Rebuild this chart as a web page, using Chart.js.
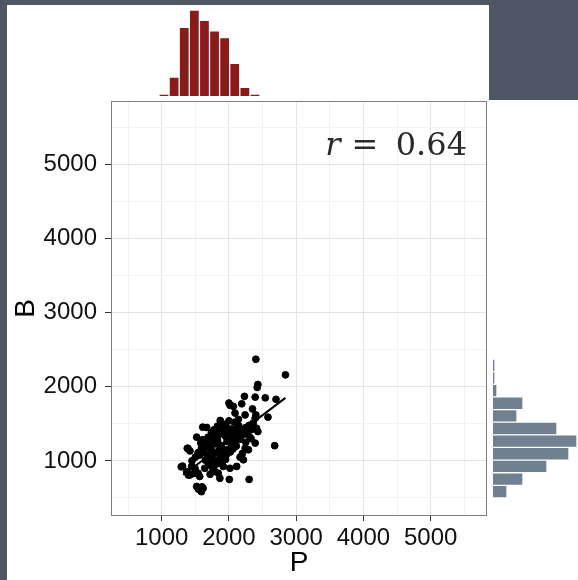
<!DOCTYPE html>
<html>
<head>
<meta charset="utf-8">
<script src="https://cdn.jsdelivr.net/npm/chart.js@4.4.1/dist/chart.umd.min.js"></script>
<style>
  html, body { margin: 0; padding: 0; }
  body { width: 578px; height: 580px; background: #4f5666; position: relative; overflow: hidden; }
  .panel { position: absolute; background: #fff; }
  canvas { position: absolute; }
</style>
</head>
<body>
<div class="panel" style="left:7px;top:5px;width:482px;height:96px"></div>
<div class="panel" style="left:7px;top:100px;width:571px;height:480px"></div>
<canvas id="main" style="left:0;top:0" width="578" height="580"></canvas>
<canvas id="topHist" style="left:159px;top:5px" width="101" height="91"></canvas>
<canvas id="sideHist" style="left:493px;top:359px" width="85" height="139"></canvas>
<script>
// scatter: P (x) vs B (y)
const pVals = [
  2400, 2840, 2430, 2420, 2230, 2390, 2540, 2700, 2000, 2015, 2065, 2190, 2350, 2090, 2240, 2580, 2390, 2400,
  1870, 1890, 1610, 1670, 2025, 2145, 2410, 2430, 1520, 1765, 1840, 1990, 2310, 1610, 1380, 1420, 1590, 1640,
  2240, 2290, 2390, 2680, 1550, 2165, 2215,
  1310, 1445, 1495, 1765, 1915, 2015, 2115, 1370, 1420, 1540, 1565, 1840, 1865, 2005, 2300, 1520, 1565, 1590,
  1615, 1545, 1600,
  1700, 1720, 1740, 1760, 1780, 1800, 1830, 1850, 1860, 1870, 1880, 1900, 1920, 1930,
  1950, 1960, 1970, 1980, 2010, 2020, 2030, 2050, 2060, 2070, 2080, 2100, 2110, 2120,
  2150, 2160, 2180, 2200, 2220, 2250, 2270, 2300, 2330, 2360, 1750, 1790, 1820, 1680, 1650, 1700, 1760,
  1820, 1900, 1950, 1620, 1660, 1690, 1740, 1780, 1830, 1880, 1950, 2000, 2080, 2140, 1580, 1640, 1720, 1790,
  1290, 1390, 1570, 1395, 1480, 1540, 2250, 2330, 2200, 1500, 1450
];
const bVals = [
  2370, 2160, 2030, 1990, 1870, 1860, 1850, 1830, 1780, 1750, 1735, 1770, 1700, 1645, 1620, 1590, 1575, 1620,
  1545, 1510, 1455, 1450, 1430, 1475, 1440, 1395, 1320, 1330, 1375, 1330, 1320, 1285, 1170, 1135, 1170, 1170,
  1170, 1150, 1240, 1205, 1080, 1050, 1015,
  930, 925, 900, 930, 925, 900, 925, 855, 810, 835, 790, 835, 765, 750, 750, 655, 610, 585,
  630, 620, 650,
  1200, 1260, 1150, 1310, 1100, 1230, 1280, 1140, 1360, 1050, 1210, 1170, 1120, 1400,
  1330, 1080, 1260, 1150, 1370, 1120, 1240, 1310, 1160, 1420, 1230, 1350, 1200, 1300,
  1380, 1290, 1330, 1420, 1360, 1450, 1390, 1480, 1420, 1510, 1020, 990, 960, 1080, 1010, 950, 880,
  1000, 980, 1020, 1120, 1230, 1320, 1380, 1420, 1470, 1430, 1480, 1540, 1520, 1560, 1240, 900, 820, 860,
  920, 1170, 1080, 810, 830, 1110, 1250, 1300, 1100, 1050, 1000
];
// fitted line end points
const fitP = [1320, 2840];
const fitB = [810, 1850];
const gridVals = [500, 1000, 1500, 2000, 2500, 3000, 3500, 4000, 4500, 5000, 5500];

// marginal histograms
const pBins = ['1000', '1150', '1300', '1450', '1600', '1750', '1900', '2050', '2200', '2350'];
const pCounts = [1, 11, 40, 50, 44, 38, 34, 19, 5, 1];
const bBins = ['2300', '2130', '1960', '1790', '1620', '1450', '1280', '1110', '940', '770', '600'];
const bCounts = [1, 1, 2, 15, 12, 32, 42, 38, 27, 15, 7];

const sans = '"Liberation Sans", Arial, sans-serif';

const panelBox = {
  id: 'panelBox',
  afterDraw(chart) {
    const c = chart.ctx, a = chart.chartArea;
    c.save();
    c.strokeStyle = '#7f7f7f';
    c.lineWidth = 1;
    c.strokeRect(a.left + 0.5, a.top + 0.5, a.right - a.left - 1, a.bottom - a.top - 1);
    // r label
    c.fillStyle = '#2a2a2a';
    c.textBaseline = 'alphabetic';
    c.font = '32px "DejaVu Serif", serif';
    c.textAlign = 'right';
    c.fillText('0.64', a.right - 20, a.top + 54);
    c.textAlign = 'center';
    c.fillText('=', a.right - 122, a.top + 54);
    c.font = 'italic 32px "DejaVu Serif", serif';
    c.fillText('r', a.right - 154, a.top + 54);
    c.restore();
  }
};

const isMajor = v => v % 1000 === 0;

new Chart(document.getElementById('main'), {
  type: 'scatter',
  data: {
    datasets: [{
      data: pVals.map((p, i) => ({ x: p, y: bVals[i] })),
      backgroundColor: '#000',
      borderColor: '#000',
      pointRadius: 3.4,
      pointHoverRadius: 3.4
    }, {
      data: fitP.map((p, i) => ({ x: p, y: fitB[i] })),
      showLine: true,
      borderColor: '#000',
      borderWidth: 2,
      pointRadius: 0
    }]
  },
  options: {
    responsive: false,
    animation: false,
    layout: { padding: { left: 7, top: 101, right: 91, bottom: 0 } },
    plugins: { legend: { display: false }, tooltip: { enabled: false } },
    scales: {
      x: {
        type: 'linear', min: 246, max: 5837,
        afterBuildTicks: s => { s.ticks = gridVals.map(v => ({ value: v })); },
        afterFit: s => { s.height = 64; },
        ticks: {
          callback: v => isMajor(v) ? String(v) : '',
          autoSkip: false, maxRotation: 0,
          font: { family: sans, size: 24 }, color: '#111', padding: 3
        },
        grid: {
          color: ctx => isMajor(ctx.tick.value) ? '#e4e4e4' : '#f2f2f2',
          tickColor: ctx => isMajor(ctx.tick.value) ? '#333' : 'rgba(0,0,0,0)',
          tickLength: 5
        },
        border: { display: false },
        title: { display: true, text: 'P', font: { family: sans, size: 28 }, color: '#000', padding: 0 }
      },
      y: {
        type: 'linear', min: 257, max: 5852,
        afterBuildTicks: s => { s.ticks = gridVals.map(v => ({ value: v })); },
        afterFit: s => { s.width = 104; },
        ticks: {
          callback: v => isMajor(v) ? String(v) : '',
          autoSkip: false,
          font: { family: sans, size: 24 }, color: '#111', padding: 8
        },
        grid: {
          color: ctx => isMajor(ctx.tick.value) ? '#e4e4e4' : '#f2f2f2',
          tickColor: ctx => isMajor(ctx.tick.value) ? '#333' : 'rgba(0,0,0,0)',
          tickLength: 6
        },
        border: { display: false },
        title: { display: true, text: 'B', font: { family: sans, size: 28 }, color: '#000', padding: { top: 2, bottom: 0 } }
      }
    }
  },
  plugins: [panelBox]
});

new Chart(document.getElementById('topHist'), {
  type: 'bar',
  data: {
    labels: pBins,
    datasets: [{
      data: pCounts,
      backgroundColor: '#8b1a1a',
      borderColor: 'rgba(255,255,255,0.6)',
      borderWidth: 1,
      barPercentage: 1,
      categoryPercentage: 1
    }]
  },
  options: {
    responsive: false,
    animation: false,
    plugins: { legend: { display: false }, tooltip: { enabled: false } },
    scales: {
      x: { display: false },
      y: { display: false, min: 0, max: 53 }
    }
  }
});

new Chart(document.getElementById('sideHist'), {
  type: 'bar',
  data: {
    labels: bBins,
    datasets: [{
      data: bCounts,
      backgroundColor: '#708090',
      borderColor: 'rgba(255,255,255,0.6)',
      borderWidth: 1,
      barPercentage: 1,
      categoryPercentage: 1
    }]
  },
  options: {
    indexAxis: 'y',
    responsive: false,
    animation: false,
    plugins: { legend: { display: false }, tooltip: { enabled: false } },
    scales: {
      x: { display: false, min: 0, max: 42.5 },
      y: { display: false }
    }
  }
});
</script>
</body>
</html>
